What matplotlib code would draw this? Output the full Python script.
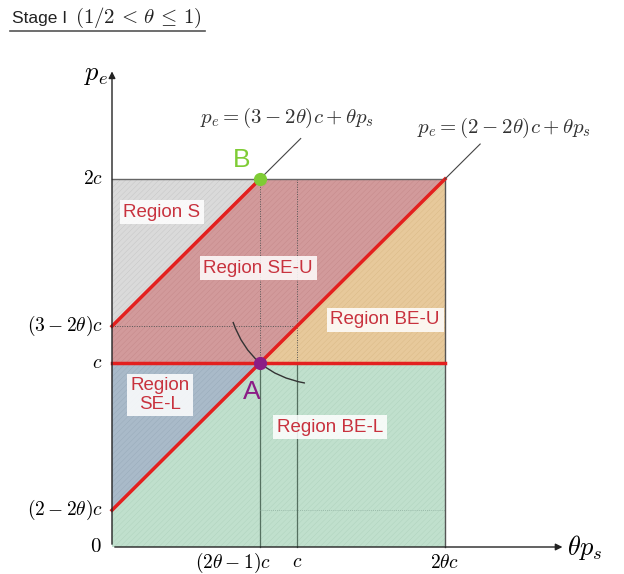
import matplotlib
matplotlib.use("Agg")
import matplotlib.pyplot as plt
from matplotlib.patches import Polygon, PathPatch
from matplotlib.path import Path
from matplotlib.lines import Line2D

plt.rcParams["font.family"] = ["Liberation Sans", "DejaVu Sans"]
plt.rcParams["mathtext.fontset"] = "cm"
plt.rcParams["hatch.linewidth"] = 0.3

# model parameters (Stage I, 1/2 < theta <= 1)
theta = 0.9
c = 1.0

x_max = 2 * theta * c            # 2θc
y_max = 2 * c                    # 2c
upper_icpt = (3 - 2 * theta) * c  # (3-2θ)c
lower_icpt = (2 - 2 * theta) * c  # (2-2θ)c
x_a = (2 * theta - 1) * c         # (2θ-1)c

y_ticks = [y_max, upper_icpt, c, lower_icpt]
y_tick_labels = [r"$2c$", r"$(3-2\theta)c$", r"$c$", r"$(2-2\theta)c$"]
x_ticks = [x_a, c, x_max]
x_tick_labels = [r"$(2\theta-1)c$", r"$c$", r"$2\theta c$"]

region_names = ["Region S", "Region SE-U", "Region BE-U", "Region\nSE-L", "Region BE-L"]
region_colors = ["#dadada", "#d29a9b", "#e7c99b", "#a9bac9", "#c0e0cd"]
region_hatch = ["#c4c4c4", "#c48788", "#d9b985", "#97a9b9", "#aed1bc"]
region_label_pos = [(0.27, 1.82), (0.79, 1.516), (1.476, 1.234), (0.26, 0.826), (1.178, 0.652)]

# curve through point A
arc_pts = [(0.654, 1.223), (0.7515, 0.943), (1.043, 0.891)]

fig = plt.figure(figsize=(6.24, 5.74), dpi=100)
ax = fig.add_axes([0, 0, 1, 1])
ax.set_xlim(-112 / 185, (624 - 112) / 185)
ax.set_ylim(-27 / 184, 547 / 184)
ax.axis("off")

regions = [
    [(0, upper_icpt), (x_a, y_max), (0, y_max)],
    [(0, upper_icpt), (x_a, y_max), (x_max, y_max), (x_a, c), (0, c)],
    [(x_a, c), (x_max, y_max), (x_max, c)],
    [(0, lower_icpt), (x_a, c), (0, c)],
    [(0, 0), (x_max, 0), (x_max, c), (x_a, c), (0, lower_icpt)],
]
for poly, fc, hc in zip(regions, region_colors, region_hatch):
    ax.add_patch(Polygon(poly, closed=True, facecolor=fc, edgecolor=hc,
                         hatch="//////", linewidth=0, zorder=1))

# guide lines
dot = (0, (1, 1.5))
ax.plot([x_a, x_a], [0, y_max], color="#555555", lw=0.7, ls=dot, zorder=2)
ax.plot([c, c], [0, y_max], color="#555555", lw=0.7, ls=dot, zorder=2)
ax.plot([c, c], [0, c], color="#557060", lw=0.9, zorder=2)
ax.plot([x_a, x_a], [0, c], color="#557060", lw=0.9, zorder=2)
ax.plot([0, c], [upper_icpt, upper_icpt], color="#555555", lw=0.7, ls=dot, zorder=2)
ax.plot([x_a, x_max], [lower_icpt, lower_icpt], color="#8fb0a0", lw=0.6, ls=dot, zorder=2)

# box edges
ax.plot([0, x_max], [y_max, y_max], color="#666666", lw=1.0, zorder=2)
ax.plot([x_max, x_max], [0, y_max], color="#555555", lw=1.0, zorder=2)

# boundary lines
red = "#e3201f"
ax.plot([0, x_a], [upper_icpt, y_max], color=red, lw=2.5, zorder=3)
ax.plot([0, x_max], [lower_icpt, y_max], color=red, lw=2.5, zorder=3)
ax.plot([0, x_max], [c, c], color=red, lw=2.5, zorder=3)

# leaders to the equations
ax.plot([x_a, 1.02], [y_max, 2.22], color="#444444", lw=0.8, zorder=3)
ax.plot([x_max, 1.99], [y_max, 2.19], color="#444444", lw=0.8, zorder=3)
ax.text(0.946, 2.33, r"$p_e = (3-2\theta)c + \theta p_s$", ha="center", va="center",
        fontsize=15, color="#333333")
ax.text(2.12, 2.28, r"$p_e = (2-2\theta)c + \theta p_s$", ha="center", va="center",
        fontsize=15, color="#333333")

# arc through A
ax.add_patch(PathPatch(Path(arc_pts, [Path.MOVETO, Path.CURVE3, Path.CURVE3]),
                       facecolor="none", edgecolor="#333333", lw=1.0, zorder=4))

# points A and B
ax.plot([x_a], [c], "o", color="#8b1d86", ms=8.5, zorder=5)
ax.plot([x_a], [y_max], "o", color="#7fcc35", ms=8.5, zorder=5)
ax.text(0.757, 0.842, "A", color="#8b1d86", fontsize=19, ha="center", va="center", zorder=5)
ax.text(0.703, 2.103, "B", color="#7fcc35", fontsize=19, ha="center", va="center", zorder=5)

for name, (tx, ty) in zip(region_names, region_label_pos):
    ax.text(tx, ty, name, color="#c8323e", fontsize=13.5, ha="center", va="center",
            linespacing=1.1, zorder=6,
            bbox=dict(boxstyle="square,pad=0.2", fc="white", ec="none", alpha=0.85))

# axes with arrows
ax.annotate("", xy=(2.45, 0), xytext=(0, 0),
            arrowprops=dict(arrowstyle="-|>", color="#222222", lw=1.0, mutation_scale=10))
ax.annotate("", xy=(0, 2.6), xytext=(0, 0),
            arrowprops=dict(arrowstyle="-|>", color="#222222", lw=1.0, mutation_scale=10))
ax.text(2.46, 0.0, r"$\theta p_s$", fontsize=19, ha="left", va="center")
ax.text(-0.085, 2.565, r"$p_e$", fontsize=19, ha="center", va="center")
ax.text(-0.09, 0.0, r"$0$", fontsize=15, ha="center", va="center")

for yv, lab in zip(y_ticks, y_tick_labels):
    ax.text(-0.05, yv, lab, fontsize=14, ha="right", va="center")
x_label_pos = [0.654, c, x_max]
for xv, lab in zip(x_label_pos, x_tick_labels):
    ax.text(xv, -0.085, lab, fontsize=14, ha="center", va="center")

# title with underline
fig.text(12 / 624, 1 - 18 / 574, "Stage I", fontsize=12.5,
         ha="left", va="center", color="#222222")
fig.text(75 / 624, 1 - 18 / 574, r"$(1/2\,<\,\theta\,\leq\,1)$", fontsize=15,
         ha="left", va="center", color="#222222")
fig.add_artist(Line2D([10 / 624, 205 / 624], [1 - 31 / 574, 1 - 31 / 574],
                      color="#555555", lw=1.2))

fig.savefig("out.png", dpi=100)
